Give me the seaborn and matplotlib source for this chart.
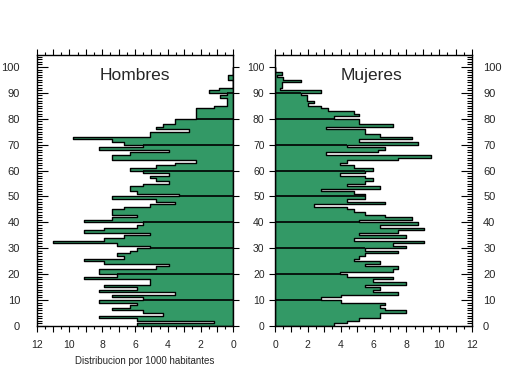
import numpy as np
import pandas as pd
import seaborn as sns
import matplotlib.pyplot as plt
from matplotlib.ticker import MultipleLocator, FuncFormatter, NullFormatter

# datos por edad (0-99), distribucion por 1000 habitantes
edades = list(range(100))

hombres = [
    5.9, 1.2, 5.9, 8.2, 4.3, 5.5, 7.4, 6.3, 5.9, 8.2,
    5.5, 7.4, 3.55, 8.2, 5.9, 7.9, 5.1, 5.1, 9.1, 7.1,
    8.2, 8.2, 4.7, 3.9, 7.9, 9.1, 6.65, 7.1, 6.3, 5.9,
    5.1, 7.1, 11.0, 7.9, 6.65, 5.1, 9.1, 7.9, 5.9, 5.5,
    9.1, 7.4, 5.9, 7.4, 7.4, 6.65, 5.1, 3.55, 4.7, 7.4,
    3.3, 5.9, 6.3, 6.3, 5.5, 3.9, 4.7, 5.1, 3.9, 5.5,
    6.3, 4.7, 3.55, 2.3, 7.4, 7.4, 6.3, 3.9, 8.2, 5.5,
    6.65, 7.4, 9.8, 5.1, 5.1, 2.7, 4.7, 4.3, 3.55, 3.55,
    2.3, 2.3, 2.3, 2.3, 1.2, 0.4, 0.4, 0.4, 0.8, 0.4,
    1.5, 0.9, 0.0, 0.0, 0.0, 0.35, 0.35, 0.0, 0.0, 0.0,
]

mujeres = [
    3.6, 4.4, 5.1, 6.4, 6.4, 7.95, 6.7, 6.4, 6.7, 4.0,
    2.8, 4.0, 7.5, 5.95, 6.4, 5.5, 7.95, 5.95, 7.2, 4.4,
    3.95, 7.2, 7.5, 5.5, 6.4, 4.8, 5.1, 5.5, 7.5, 5.5,
    7.95, 7.2, 9.1, 4.8, 7.95, 5.1, 7.5, 9.1, 6.4, 8.7,
    5.1, 8.35, 6.7, 5.5, 4.8, 4.4, 2.4, 6.7, 4.4, 5.5,
    5.5, 4.8, 2.8, 6.4, 4.4, 5.5, 5.95, 5.5, 3.95, 5.5,
    5.95, 4.8, 3.95, 4.4, 7.5, 9.5, 3.1, 6.3, 6.7, 4.4,
    8.7, 5.1, 8.35, 6.4, 5.5, 5.5, 3.1, 7.2, 5.1, 5.1,
    3.6, 5.1, 4.8, 3.2, 2.8, 2.0, 2.35, 1.95, 1.95, 1.6,
    2.8, 0.3, 0.4, 0.4, 1.6, 0.5, 0.1, 0.4, 0.0, 0.0,
]

decadas = [10, 20, 30, 40, 50, 60, 70, 80, 90]

df = pd.DataFrame({'edad': [e + 0.5 for e in edades],
                   'hombres': hombres, 'mujeres': mujeres})

sns.set_style('white')
plt.rcParams['font.family'] = ['Liberation Sans', 'DejaVu Sans']

verde = '#339966'

fig = plt.figure(figsize=(5.09, 3.76), dpi=100)
axL = fig.add_axes([0.0721, 0.133, 0.3863, 0.7207])
axR = fig.add_axes([0.5403, 0.133, 0.3870, 0.7207])


def piramide(ax, col):
    sns.histplot(data=df, y='edad', weights=col, binwidth=1, binrange=(0, 100),
                 element='step', fill=True, color=verde, alpha=1,
                 edgecolor='black', linewidth=1.0, ax=ax)
    v = df[col].values
    # lineas de decada
    for d in decadas:
        ax.hlines(d, 0, min(v[d - 1], v[d]), color='black', lw=1.2, zorder=5)
    ax.set_ylim(0, 104.6)
    ax.set_xlabel('')
    ax.set_ylabel('')
    for s in ax.spines.values():
        s.set_color('black')
        s.set_linewidth(1.0)
    ax.xaxis.set_major_locator(MultipleLocator(1))
    ax.xaxis.set_minor_locator(MultipleLocator(0.5))
    ax.xaxis.set_major_formatter(
        FuncFormatter(lambda x, p: f'{int(round(x))}' if int(round(x)) % 2 == 0 else ''))
    ax.tick_params(axis='x', which='both', bottom=True, top=True, direction='out',
                   labelsize=7.5, color='black', width=0.8, pad=6)
    ax.tick_params(axis='x', which='major', length=4)
    ax.tick_params(axis='x', which='minor', length=2.5)
    # eje exterior: marcas hacia dentro, menores cada año
    ax.yaxis.set_major_locator(MultipleLocator(10))
    ax.yaxis.set_minor_locator(MultipleLocator(1))
    ax.tick_params(axis='y', which='both', direction='in', color='black',
                   width=0.8, labelsize=8)
    ax.tick_params(axis='y', which='major', length=8)
    ax.tick_params(axis='y', which='minor', length=3.5)


def eje_interior(ax, lado):
    sec = ax.secondary_yaxis(lado)
    sec.yaxis.set_major_locator(MultipleLocator(10))
    sec.tick_params(axis='y', which='major', direction='out', length=4,
                    width=0.8, color='black', labelsize=7.5)
    if lado == 'right':
        sec.yaxis.set_major_formatter(NullFormatter())
    sec.spines[lado].set_visible(False)
    return sec


# Hombres
piramide(axL, 'hombres')
axL.set_xlim(12, 0)
axL.tick_params(axis='y', which='both', left=True, right=False,
                labelleft=True, labelright=False, pad=12)
eje_interior(axL, 'right')
axL.text(0.5, 0.925, 'Hombres', transform=axL.transAxes, ha='center', va='center',
         fontsize=12.5)
axL.set_xlabel('Distribucion por 1000 habitantes', fontsize=7)
axL.xaxis.set_label_coords(0.548, -0.112)

# Mujeres
piramide(axR, 'mujeres')
axR.set_xlim(0, 12)
axR.yaxis.tick_right()
axR.tick_params(axis='y', which='both', left=False, right=True,
                labelleft=False, labelright=True, pad=8)
eje_interior(axR, 'left')
axR.text(0.49, 0.925, 'Mujeres', transform=axR.transAxes, ha='center', va='center',
         fontsize=12.5)

fig.savefig('out.png', dpi=100)
